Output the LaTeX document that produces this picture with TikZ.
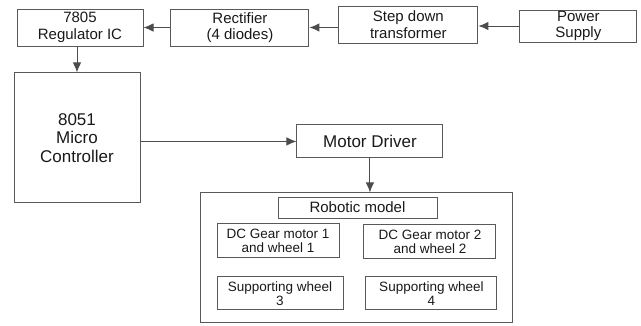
\documentclass[tikz,border=0pt]{standalone}
\usepackage{fontspec}
\setmainfont{Liberation Sans}
\usetikzlibrary{positioning}
\usetikzlibrary{arrows.meta}
\tikzset{
	stage/.style={draw=black!65, line width=1pt, rectangle, inner sep=0pt, align=center, text=black!90, font=\fontsize{15}{16.5}\selectfont},
	part/.style={draw=black!65, line width=0.9pt, rectangle, inner sep=0pt, align=center, text=black!90, font=\fontsize{13.5}{14}\selectfont},
	% outer box round the robot parts
	housing/.style={draw=black!65, line width=0.9pt, rectangle, inner sep=0pt},
}

\begin{document}
\begin{tikzpicture}
	\useasboundingbox (0,0) rectangle (641pt,-325pt);
	
	\node (reg) [stage, minimum width=126pt, minimum height=37pt] at (80pt,-27.5pt) {7805\\Regulator IC};
	\node (rect) [stage, minimum width=138pt, minimum height=37pt, right of=reg, xshift=131.5pt] {Rectifier\\(4 diodes)};
	\node (step) [stage, minimum width=139pt, minimum height=37pt, right of=rect, xshift=140pt, yshift=3pt] {Step down\\transformer};
	\node (power) [stage, minimum width=117pt, minimum height=32pt, right of=step, xshift=141.5pt, yshift=-1.5pt] {Power\\Supply};
	
	\node (mcu) [stage, minimum width=126pt, minimum height=130pt, font=\fontsize{17}{18.5}\selectfont, below of=reg, xshift=-3pt, yshift=-82pt] {8051\\Micro\\Controller};
	\node (driver) [stage, minimum width=146pt, minimum height=33pt, font=\fontsize{17}{18.5}\selectfont, right of=mcu, xshift=264.5pt, yshift=-3.5pt] {Motor Driver};
	
	\node (robot) [housing, minimum width=312pt, minimum height=130pt, below of=driver, xshift=-14pt, yshift=-88pt] {};
	\node (model) [part, minimum width=159pt, minimum height=21pt, font=\fontsize{15}{16.5}\selectfont, above of=robot, xshift=1.5pt, yshift=22pt] {Robotic model};
	\node (dc1) [part, minimum width=122pt, minimum height=34pt, below of=model, xshift=-79.5pt, yshift=-5pt] {DC Gear motor 1\\and wheel 1};
	\node (dc2) [part, minimum width=132pt, minimum height=34pt, right of=dc1, xshift=123.5pt, yshift=-1pt] {DC Gear motor 2\\and wheel 2};
	\node (sw3) [part, minimum width=126pt, minimum height=33pt, below of=dc1, xshift=2pt, yshift=-24pt] {Supporting wheel\\3};
	\node (sw4) [part, minimum width=131pt, minimum height=33pt, right of=sw3, xshift=123pt] {Supporting wheel\\4};
	
	\begin{scope}[line width=1pt, black!70, -{Latex[length=10pt, width=8.5pt]}]
		\draw (power.west) -- (step.east |- power.west);
		\draw (step.west |- rect.east) -- (rect.east);
		\draw (rect) -- (reg);
		\draw (mcu.north |- reg.south) -- (mcu.north);
		\draw (mcu.east |- driver.west) -- (driver.west);
		\draw (driver.south) -- (driver.south |- robot.north);
	\end{scope}
\end{tikzpicture}
\end{document}
